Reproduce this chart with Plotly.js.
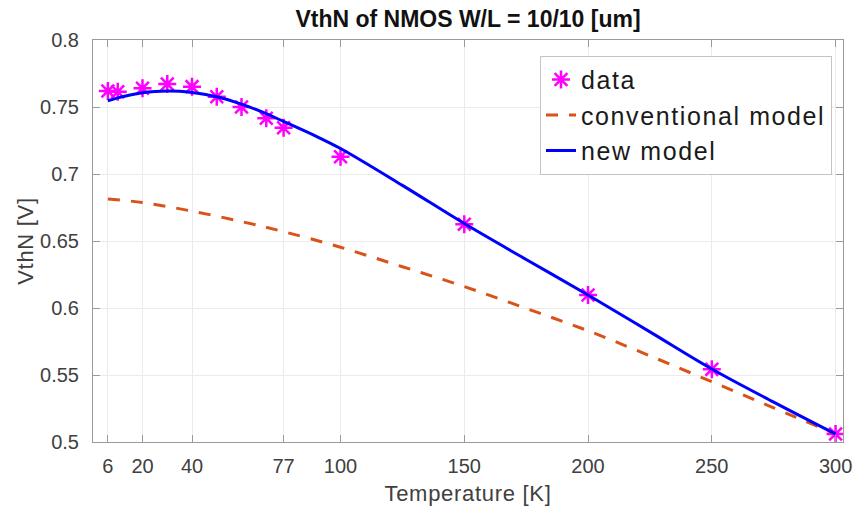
<!DOCTYPE html>
<html>
<head>
<meta charset="utf-8">
<script src="https://cdn.plot.ly/plotly-3.0.1.min.js"></script>
<style>
html, body { margin: 0; padding: 0; background: #ffffff; }
#chart { width: 865px; height: 509px; }
.legendtext { letter-spacing: 1.6px; }
.xtitle, .ytitle { letter-spacing: 0.7px; }
</style>
</head>
<body>
<div id="chart"></div>
<script>
// Measured data (stars)
const dataT = [6, 10, 20, 30, 40, 50, 60, 70, 77, 100, 150, 200, 250, 300];
const dataV = [0.7620, 0.7614, 0.7640, 0.7671, 0.7652, 0.7576, 0.7500, 0.7416, 0.7346, 0.7129, 0.6625, 0.6097, 0.5542, 0.5060];

// Conventional model (dashed)
const convT = [6, 20, 40, 60, 77, 100, 125, 150, 175, 200, 225, 250, 275, 300];
const convV = [0.6814, 0.6787, 0.6723, 0.6645, 0.6570, 0.6453, 0.6308, 0.6160, 0.5997, 0.5830, 0.5643, 0.5450, 0.5255, 0.5060];

// New model (solid)
const newT = [6, 10, 15, 20, 25, 30, 35, 40, 50, 60, 70, 77, 90, 100, 125, 150, 175, 200, 225, 250, 275, 300];
const newV = [0.7547, 0.7568, 0.7590, 0.7606, 0.7615, 0.7619, 0.7617, 0.7608, 0.7576, 0.7522, 0.7450, 0.7392, 0.7283, 0.7190, 0.6915, 0.6630, 0.6362, 0.6097, 0.5822, 0.5545, 0.5298, 0.5060];

// Tick labels
const xTickVals = [6, 20, 40, 77, 100, 150, 200, 250, 300];
const xTickText = ['6', '20', '40', '77', '100', '150', '200', '250', '300'];
const yTickVals = [0.5, 0.55, 0.6, 0.65, 0.7, 0.75, 0.8];
const yTickText = ['0.5', '0.55', '0.6', '0.65', '0.7', '0.75', '0.8'];

const FONT = 'Liberation Sans, Arial, sans-serif';
const AXIS_GRAY = '#9a9a9a';
const TEXT_GRAY = '#404040';

const traces = [
  {
    x: dataT, y: dataV, name: 'data', type: 'scatter', mode: 'markers',
    marker: { symbol: 'asterisk-open', size: 15, color: '#ff00ff', line: { color: '#ff00ff', width: 2.5 } }
  },
  {
    x: convT, y: convV, name: 'conventional model', type: 'scatter', mode: 'lines',
    line: { color: '#D95319', width: 3, dash: '12px,11px', shape: 'spline' }
  },
  {
    x: newT, y: newV, name: 'new model', type: 'scatter', mode: 'lines',
    line: { color: '#0000ff', width: 3, shape: 'spline', smoothing: 1 }
  }
];

const layout = {
  width: 865, height: 509,
  paper_bgcolor: '#ffffff', plot_bgcolor: '#ffffff',
  margin: { l: 93, r: 22, t: 40, b: 67 },
  font: { family: FONT, color: TEXT_GRAY },
  title: {
    text: '<b>VthN of NMOS W/L = 10/10 [um]</b>',
    font: { family: FONT, size: 23, color: '#111111' },
    xref: 'paper', x: 0.5, xanchor: 'center',
    yref: 'container', y: 0.962, yanchor: 'middle'
  },
  xaxis: {
    range: [0, 303], autorange: false,
    tickmode: 'array', tickvals: xTickVals, ticktext: xTickText,
    ticks: 'inside', ticklen: 7, tickwidth: 1, tickcolor: AXIS_GRAY,
    showline: true, linecolor: AXIS_GRAY, linewidth: 1, mirror: 'allticks',
    showgrid: true, gridcolor: '#ebebeb', gridwidth: 1, zeroline: false,
    tickfont: { family: FONT, size: 20, color: TEXT_GRAY },
    ticklabelstandoff: 6,
    title: { text: 'Temperature [K]', font: { family: FONT, size: 22, color: TEXT_GRAY }, standoff: 9 }
  },
  yaxis: {
    range: [0.5, 0.8], autorange: false,
    tickmode: 'array', tickvals: yTickVals, ticktext: yTickText,
    ticks: 'inside', ticklen: 7, tickwidth: 1, tickcolor: AXIS_GRAY,
    showline: true, linecolor: AXIS_GRAY, linewidth: 1, mirror: 'allticks',
    showgrid: true, gridcolor: '#ebebeb', gridwidth: 1, zeroline: false,
    tickfont: { family: FONT, size: 20, color: TEXT_GRAY },
    ticklabelstandoff: 9,
    title: { text: 'VthN [V]', font: { family: FONT, size: 22, color: TEXT_GRAY }, standoff: 0 }
  },
  legend: {
    x: 0.596, y: 0.961, xanchor: 'left', yanchor: 'top',
    bgcolor: '#ffffff', bordercolor: '#c4c4c4', borderwidth: 1,
    font: { family: FONT, size: 25, color: '#1a1a1a' },
    itemwidth: 30, tracegroupgap: 0
  },
  showlegend: true
};

Plotly.newPlot('chart', traces, layout, { displayModeBar: false, staticPlot: true });
</script>
</body>
</html>
